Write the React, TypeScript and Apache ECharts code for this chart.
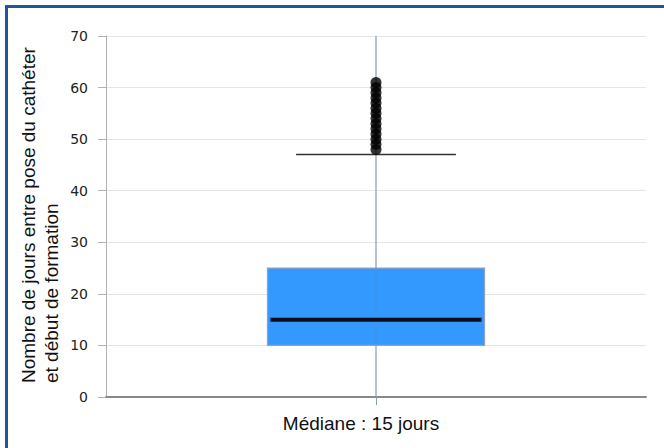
import React, { useEffect, useRef } from "react";
import * as echarts from "echarts";

const categories = ["Médiane : 15 jours"];
// [min, q1, median, q3, upper whisker]
const boxValues = [[0, 10, 15, 25, 47]];
const outlierValues = [48, 49, 50, 51, 52, 53, 54, 55, 56, 57, 58, 59, 60, 61];
const yTicks = { min: 0, max: 70, interval: 10 };
const yName = "Nombre de jours entre pose du cathéter\net début de formation";

export default function App() {
  const ref = useRef<HTMLDivElement>(null);
  useEffect(() => {
    if (!ref.current) return;
    const chart = echarts.init(ref.current, null, { renderer: "svg" });
    const boxData = boxValues.map((v, i) => [i, ...v]);
    const outData = outlierValues.map((v) => [0, v]);
    chart.setOption({
      animation: false,
      backgroundColor: "#ffffff",
      grid: { left: 106, right: 18, top: 36, bottom: 51 },
      graphic: [
        {
          type: "text",
          x: 40,
          y: 383,
          rotation: Math.PI / 2,
          style: {
            text: yName,
            fill: "#111111",
            font: "19px 'Liberation Sans'",
            lineHeight: 23,
            align: "left",
            verticalAlign: "middle",
          },
        },
      ],
      xAxis: {
        type: "category",
        data: categories,
        boundaryGap: true,
        axisLine: { show: true, lineStyle: { color: "#888888", width: 2 } },
        axisTick: { show: true, alignWithLabel: true, length: 8, lineStyle: { color: "#8a9ab8", width: 1 } },
        axisLabel: {
          color: "#111111",
          fontSize: 19,
          fontFamily: "Liberation Sans",
          margin: 17,
          padding: [0, 30, 0, 0],
        },
        splitLine: { show: false },
      },
      yAxis: {
        type: "value",
        min: yTicks.min,
        max: yTicks.max,
        interval: yTicks.interval,
        axisLine: { show: true, lineStyle: { color: "#b0b0b0", width: 1 } },
        axisTick: { show: true, length: 8, lineStyle: { color: "#b0b0b0" } },
        axisLabel: { color: "#222222", fontSize: 14, fontFamily: "DejaVu Sans", margin: 18 },
        splitLine: { show: true, lineStyle: { color: "#e4e4e4", width: 1 } },
      },
      series: [
        {
          type: "custom",
          data: boxData,
          encode: { x: 0, y: [1, 2, 3, 4, 5] },
          renderItem: (params: any, api: any) => {
            const x = api.value(0);
            const vMin = api.value(1);
            const q1 = api.value(2);
            const med = api.value(3);
            const q3 = api.value(4);
            const vMax = api.value(5);
            const band = api.size([1, 0])[0];
            const boxHalf = band * 0.201;
            const capHalf = band * 0.148;
            const pTop = api.coord([x, yTicks.max]);
            const pBottom = api.coord([x, vMin]);
            const pQ1 = api.coord([x, q1]);
            const pQ3 = api.coord([x, q3]);
            const pMed = api.coord([x, med]);
            const pMax = api.coord([x, vMax]);
            const cx = pQ1[0];
            return {
              type: "group",
              children: [
                {
                  type: "line",
                  shape: { x1: cx, y1: pTop[1], x2: cx, y2: pBottom[1] },
                  style: { stroke: "#8a9ab8", lineWidth: 1.2 },
                },
                {
                  type: "rect",
                  shape: { x: cx - boxHalf, y: pQ3[1], width: boxHalf * 2, height: pQ1[1] - pQ3[1] },
                  style: { fill: "#3399ff", stroke: "#8fa2c6", lineWidth: 1.2 },
                },
                {
                  type: "line",
                  shape: { x1: cx, y1: pQ3[1], x2: cx, y2: pQ1[1] },
                  style: { stroke: "#5a7fb8", lineWidth: 1, opacity: 0.35 },
                },
                {
                  type: "line",
                  shape: { x1: cx - boxHalf + 3, y1: pMed[1], x2: cx + boxHalf - 3, y2: pMed[1] },
                  style: { stroke: "#0a0f1a", lineWidth: 4 },
                },
                {
                  type: "line",
                  shape: { x1: cx - capHalf, y1: pMax[1], x2: cx + capHalf, y2: pMax[1] },
                  style: { stroke: "#333333", lineWidth: 1.5 },
                },
              ],
            };
          },
          z: 2,
        },
        {
          type: "scatter",
          data: outData,
          symbol: "circle",
          symbolSize: 11,
          itemStyle: { color: "#000000" },
          z: 3,
        },
      ],
    });
    return () => chart.dispose();
  }, []);
  return (
    <div style={{ position: "fixed", left: 0, top: 0, width: 664, height: 448, background: "#fff" }}>
      <div ref={ref} style={{ position: "absolute", left: 0, top: 0, width: 664, height: 448 }} />
      <div
        style={{
          position: "absolute",
          left: 5,
          top: 5,
          width: 659,
          height: 443,
          borderLeft: "3px solid #1d5894",
          borderTop: "3px solid #1d5894",
          boxSizing: "border-box",
          pointerEvents: "none",
        }}
      />
    </div>
  );
}
